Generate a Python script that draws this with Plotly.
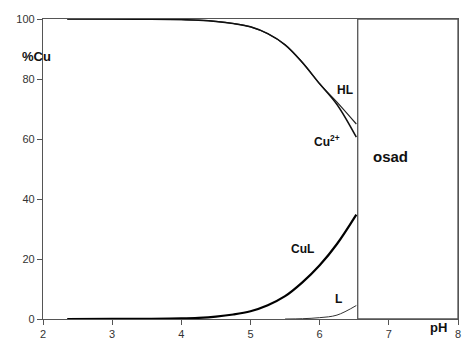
import plotly.graph_objects as go

ph = [2.35, 3.0, 3.5, 4.0, 4.25, 4.5, 4.75, 5.0, 5.25, 5.5, 5.75, 6.0, 6.25, 6.53]
cul = [0.0, 0.02, 0.07, 0.2, 0.4, 0.8, 1.5, 2.6, 4.6, 7.6, 12.2, 17.9, 25.0, 34.8]
cu2 = [100.0, 99.98, 99.93, 99.8, 99.6, 99.2, 98.5, 97.4, 95.1, 91.4, 85.5, 78.4, 71.5, 60.6]
hl = [100.0, 99.98, 99.93, 99.8, 99.6, 99.2, 98.5, 97.4, 95.1, 91.4, 85.5, 78.4, 72.3, 65.0]
ph_l = [5.5, 5.75, 6.0, 6.25, 6.53]
l_vals = [0.0, 0.1, 0.45, 1.3, 4.5]

x_ticks = [2, 3, 4, 5, 6, 7, 8]
y_ticks = [0, 20, 40, 60, 80, 100]
precip = (6.55, 8.0)

sm = 1.0
fig = go.Figure()
fig.add_trace(go.Scatter(x=ph, y=hl, mode="lines", line=dict(color="#222", width=1.2, shape="spline", smoothing=sm)))
fig.add_trace(go.Scatter(x=ph, y=cu2, mode="lines", line=dict(color="#111", width=1.5, shape="spline", smoothing=sm)))
fig.add_trace(go.Scatter(x=ph, y=cul, mode="lines", line=dict(color="#000", width=2.2, shape="spline", smoothing=sm)))
fig.add_trace(go.Scatter(x=ph_l, y=l_vals, mode="lines", line=dict(color="#333", width=1, shape="spline", smoothing=sm)))

fig.add_shape(type="rect", x0=precip[0], x1=precip[1], y0=0, y1=100, xref="x", yref="y",
              line=dict(color="#555", width=1.3), fillcolor="rgba(0,0,0,0)")

lab = dict(family="Liberation Sans, Arial", color="#111")
fig.add_annotation(x=6.37, y=76.5, text="<b>HL</b>", showarrow=False, font=dict(size=12, **lab))
fig.add_annotation(x=6.1, y=59.5, text="<b>Cu<sup>2+</sup></b>", showarrow=False, font=dict(size=12, **lab))
fig.add_annotation(x=7.02, y=54.2, text="<b>osad</b>", showarrow=False, font=dict(size=15, **lab))
fig.add_annotation(x=5.745, y=23.3, text="<b>CuL</b>", showarrow=False, font=dict(size=12, **lab))
fig.add_annotation(x=6.275, y=6.6, text="<b>L</b>", showarrow=False, font=dict(size=12, **lab))
fig.add_annotation(x=-0.055, y=0.907, xref="paper", yref="paper", text="<b>%Cu</b>", showarrow=False,
                   font=dict(size=13, **lab))
fig.add_annotation(x=0.978, y=-0.059, xref="paper", yref="paper", text="<b>pH</b>", showarrow=False,
                   font=dict(size=13, **lab))

ax = dict(showgrid=False, zeroline=False, showline=True, linecolor="#555", linewidth=1.3,
          ticks="outside", ticklen=5, tickcolor="#555", tickwidth=1.3, ticklabeloverflow="allow",
          tickfont=dict(family="Liberation Sans, Arial", size=11, color="#333"))
fig.update_xaxes(range=[2, 8], tickvals=x_ticks, mirror=True, **ax)
fig.update_yaxes(range=[0, 100], tickvals=y_ticks, mirror=True, **ax)

fig.update_layout(width=464, height=343, margin=dict(l=43, r=3, t=19, b=23),
                  paper_bgcolor="white", plot_bgcolor="white", showlegend=False)
fig.write_html("out.html")
